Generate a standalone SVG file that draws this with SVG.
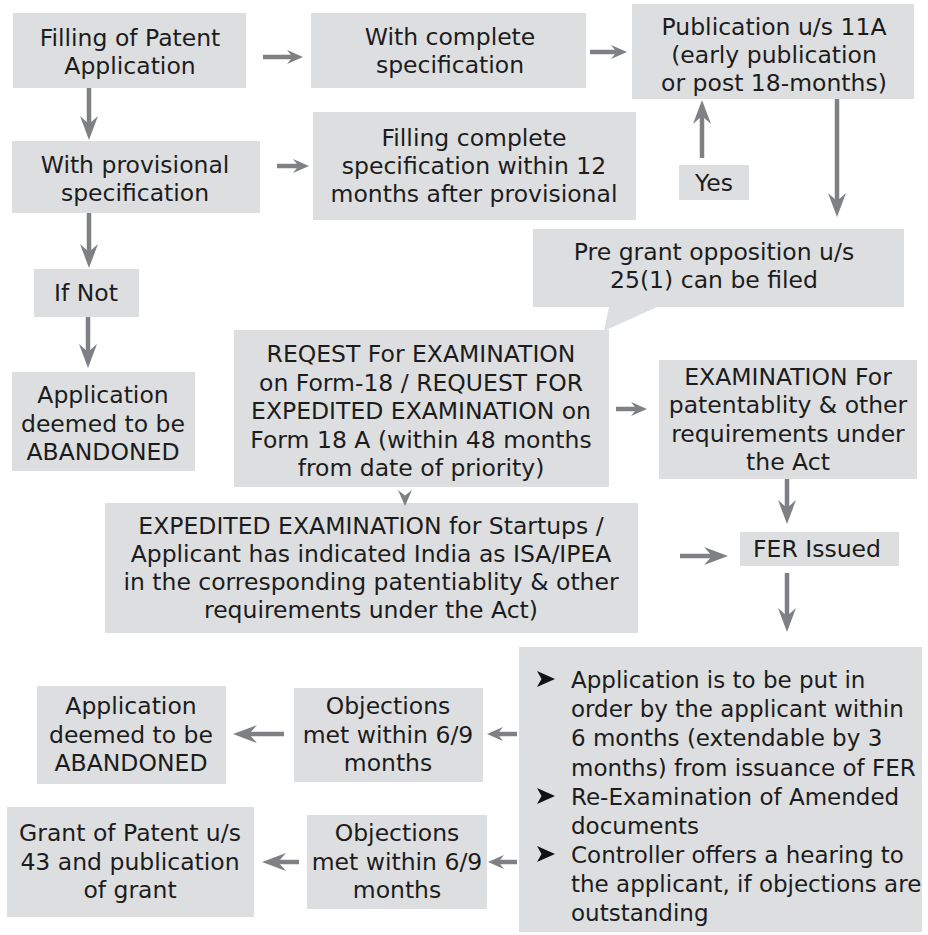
<svg xmlns="http://www.w3.org/2000/svg" width="928" height="935" viewBox="0 0 928 935">
  <style>
    .box { fill: #dddee0; }
    .t { font-family: "DejaVu Sans", "Open Sans", sans-serif; font-size: 23.5px; fill: #1c1c1c; text-anchor: middle; }
    .tl { font-family: "DejaVu Sans", "Open Sans", sans-serif; font-size: 23px; fill: #1c1c1c; }
    .conn line { stroke: #7f8083; stroke-width: 4.5; fill: none; }
    .big { marker-end: url(#headL); }
    .sm { marker-end: url(#headS); }
  </style>
  <defs>
    <marker id="headL" viewBox="0 0 24 18" markerWidth="24" markerHeight="18" refX="10" refY="9" orient="auto" markerUnits="userSpaceOnUse">
      <path d="M0,0 L24,9 L0,18 L8,9 Z" fill="#7f8083"/>
    </marker>
    <marker id="headS" viewBox="0 0 16 14" markerWidth="16" markerHeight="14" refX="7" refY="7" orient="auto" markerUnits="userSpaceOnUse">
      <path d="M0,0 L16,7 L0,14 L5.5,7 Z" fill="#7f8083"/>
    </marker>
    <!-- list marker for the FER reply steps -->
    <path id="bullet" d="M0,-8 L18,0 L0,8 L4.5,0 Z" fill="#111"/>
  </defs>

  <rect width="928" height="935" fill="#ffffff"/>

  <g id="filing">
    <rect class="box" x="13" y="13" width="233" height="75"/>
    <text class="t" x="130" y="46">Filling of Patent</text>
    <text class="t" x="130" y="74">Application</text>
  </g>

  <g id="complete">
    <rect class="box" x="311" y="13" width="275" height="75"/>
    <text class="t" x="450" y="45">With complete</text>
    <text class="t" x="450" y="73">specification</text>
  </g>

  <g id="publication">
    <rect class="box" x="632" y="4" width="282" height="95"/>
    <text class="t" x="774" y="35">Publication u/s 11A</text>
    <text class="t" x="774" y="63">(early publication</text>
    <text class="t" x="774" y="91">or post 18-months)</text>
  </g>

  <g id="provisional">
    <rect class="box" x="12" y="141" width="248" height="72"/>
    <text class="t" x="135" y="173">With provisional</text>
    <text class="t" x="135" y="201">specification</text>
  </g>

  <g id="complete-later">
    <rect class="box" x="313" y="112" width="323" height="108"/>
    <text class="t" x="474" y="146">Filling complete</text>
    <text class="t" x="474" y="174">specification within 12</text>
    <text class="t" x="474" y="202">months after provisional</text>
  </g>

  <g id="yes">
    <rect class="box" x="679" y="165" width="70" height="35"/>
    <text class="t" x="714" y="191">Yes</text>
  </g>

  <g id="if-not">
    <rect class="box" x="34" y="269" width="105" height="48"/>
    <text class="t" x="86" y="301">If Not</text>
  </g>

  <g id="pre-grant">
    <path class="box" d="M533,229 H904 V307 H657 L604,331 L609,307 H533 Z"/>
    <text class="t" x="714" y="260">Pre grant opposition u/s</text>
    <text class="t" x="714" y="288">25(1) can be filed</text>
  </g>

  <g id="abandoned-1">
    <rect class="box" x="12" y="372" width="183" height="99"/>
    <text class="t" x="103" y="403">Application</text>
    <text class="t" x="103" y="432">deemed to be</text>
    <text class="t" x="103" y="460">ABANDONED</text>
  </g>

  <g id="request">
    <rect class="box" x="234" y="330" width="375" height="157"/>
    <text class="t" x="421" y="362">REQEST For EXAMINATION</text>
    <text class="t" x="421" y="391">on Form-18 / REQUEST FOR</text>
    <text class="t" x="421" y="419">EXPEDITED EXAMINATION on</text>
    <text class="t" x="421" y="448">Form 18 A (within 48 months</text>
    <text class="t" x="421" y="476">from date of priority)</text>
  </g>

  <g id="examination">
    <rect class="box" x="659" y="360" width="258" height="119"/>
    <text class="t" x="788" y="385">EXAMINATION For</text>
    <text class="t" x="788" y="413">patentablity &amp; other</text>
    <text class="t" x="788" y="442">requirements under</text>
    <text class="t" x="788" y="470">the Act</text>
  </g>

  <g id="expedited">
    <rect class="box" x="105" y="503" width="533" height="130"/>
    <text class="t" x="371" y="534">EXPEDITED EXAMINATION for Startups /</text>
    <text class="t" x="371" y="562">Applicant has indicated India as ISA/IPEA</text>
    <text class="t" x="371" y="590">in the corresponding patentiablity &amp; other</text>
    <text class="t" x="371" y="618">requirements under the Act)</text>
  </g>

  <g id="fer">
    <rect class="box" x="740" y="532" width="159" height="34"/>
    <text class="t" x="817" y="557">FER Issued</text>
  </g>

  <g id="reply">
    <rect class="box" x="519" y="647" width="403" height="285"/>
    <use href="#bullet" x="537" y="679"/>
    <use href="#bullet" x="537" y="796"/>
    <use href="#bullet" x="537" y="854"/>
    <text class="tl" x="571" y="688">Application is to be put in</text>
    <text class="tl" x="571" y="717">order by the applicant within</text>
    <text class="tl" x="571" y="746">6 months (extendable by 3</text>
    <text class="tl" x="571" y="776">months) from issuance of FER</text>
    <text class="tl" x="571" y="805">Re-Examination of Amended</text>
    <text class="tl" x="571" y="834">documents</text>
    <text class="tl" x="571" y="863">Controller offers a hearing to</text>
    <text class="tl" x="571" y="892">the applicant, if objections are</text>
    <text class="tl" x="571" y="921">outstanding</text>
  </g>

  <g id="objections-1">
    <rect class="box" x="294" y="688" width="189" height="94"/>
    <text class="t" x="388" y="714">Objections</text>
    <text class="t" x="388" y="743">met within 6/9</text>
    <text class="t" x="388" y="771">months</text>
  </g>

  <g id="abandoned-2">
    <rect class="box" x="37" y="686" width="189" height="98"/>
    <text class="t" x="131" y="714">Application</text>
    <text class="t" x="131" y="743">deemed to be</text>
    <text class="t" x="131" y="771">ABANDONED</text>
  </g>

  <g id="objections-2">
    <rect class="box" x="307" y="815" width="180" height="94"/>
    <text class="t" x="397" y="841">Objections</text>
    <text class="t" x="397" y="870">met within 6/9</text>
    <text class="t" x="397" y="898">months</text>
  </g>

  <g id="grant">
    <rect class="box" x="7" y="807" width="247" height="110"/>
    <text class="t" x="130" y="841">Grant of Patent u/s</text>
    <text class="t" x="130" y="870">43 and publication</text>
    <text class="t" x="130" y="898">of grant</text>
  </g>

  <!-- connectors -->
  <g id="connectors" class="conn">
    <line class="sm" x1="263" y1="57" x2="294" y2="57"/>
    <line class="sm" x1="590" y1="52" x2="618" y2="52"/>
    <line class="big" x1="89" y1="88" x2="89" y2="126"/>
    <line class="sm" x1="277" y1="166" x2="300" y2="166"/>
    <line class="big" x1="89" y1="213" x2="89" y2="254"/>
    <line class="big" x1="88" y1="317" x2="88" y2="354"/>
    <line class="big" x1="702" y1="158" x2="702" y2="114"/>
    <line class="big" x1="837" y1="99" x2="837" y2="203"/>
    <line class="sm" x1="616" y1="409" x2="638" y2="409"/>
    <line class="sm" x1="405" y1="496" x2="405" y2="497"/>
    <line class="big" x1="787" y1="479" x2="787" y2="510"/>
    <line class="big" x1="680" y1="556" x2="714" y2="556"/>
    <line class="big" x1="787" y1="573" x2="787" y2="618"/>
    <line class="sm" x1="517" y1="734" x2="496" y2="734"/>
    <line class="big" x1="284" y1="734" x2="247" y2="734"/>
    <line class="sm" x1="517" y1="862" x2="497" y2="862"/>
    <line class="big" x1="299" y1="862" x2="276" y2="862"/>
  </g>
</svg>
